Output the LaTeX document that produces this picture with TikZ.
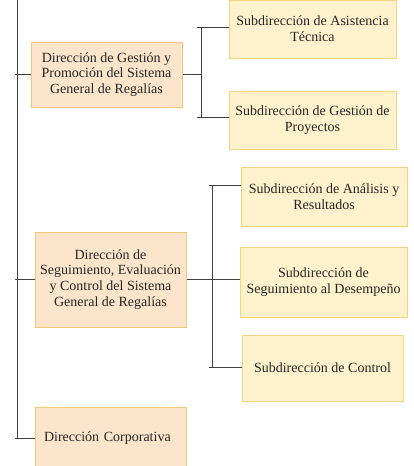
\documentclass[tikz,border=0pt]{standalone}
\usepackage{fontspec}
\setmainfont{Liberation Serif}
\begin{document}
\begin{tikzpicture}[x=1pt,y=-1pt,
  dirbox/.style={draw=dirline,fill=dirfill,line width=1pt,align=center,inner sep=0pt,
    font=\fontsize{14}{15.8}\selectfont,text=black!85},
  subbox/.style={draw=subline,fill=subfill,line width=1pt,align=center,inner sep=0pt,
    font=\fontsize{14}{15.8}\selectfont,text=black!85},
  conn/.style={draw=black!75,line width=1pt}]
\definecolor{dirfill}{HTML}{FDE5CC}
\definecolor{dirline}{HTML}{F2C776}
\definecolor{subfill}{HTML}{FFF2CC}
\definecolor{subline}{HTML}{F4D27E}
\useasboundingbox (0,0) rectangle (413,466);
\begin{scope}
\clip (0,0) rectangle (413,466);
% Direcciones
\node[dirbox,minimum width=151,minimum height=65] (d1) at (106.5,74.5)
  {Dirección de Gestión y\\Promoción del Sistema\\General de Regalías};
\node[dirbox,minimum width=151,minimum height=95] (d2) at (110.5,279.5)
  {Dirección de\\Seguimiento, Evaluación\\y Control del Sistema\\General de Regalías};
\node[dirbox,minimum width=151,minimum height=62,text width=133,align=left] (d3) at (110.5,438)
  {Dirección Corporativa};
% Subdirecciones
\node[subbox,minimum width=167,minimum height=58] (s1) at (312.5,29)
  {Subdirección de Asistencia\\Técnica};
\node[subbox,minimum width=167,minimum height=58] (s2) at (312.5,120)
  {Subdirección de Gestión de\\Proyectos};
\node[subbox,minimum width=166,minimum height=59] (s3) at (324,196.5)
  {Subdirección de Análisis y\\Resultados};
\node[subbox,minimum width=167,minimum height=70] (s4) at (323.5,282)
  {Subdirección de\\Seguimiento al Desempeño};
\node[subbox,minimum width=161,minimum height=66] (s5) at (322.5,368)
  {Subdirección de Control};
% connectors
\coordinate (ttop) at (17,0);
\coordinate (tbot) at (17,438);
\draw[conn] (ttop) -- (tbot);
\draw[conn] (d1.west -| 15,0) -- (d1.west);
\draw[conn] (d2.west -| 15,0) -- (d2.west);
\draw[conn] (d3.west -| 15,0) -- (d3.west);
% bracket 1
\coordinate (b1t) at (201,27);
\coordinate (b1b) at (201,117);
\draw[conn] (d1.east) -- (d1.east -| b1t);
\draw[conn] (b1t) -- (b1b);
\draw[conn] ([xshift=-4pt]b1t) -- (s1.west |- b1t);
\draw[conn] ([xshift=-4pt]b1b) -- (s2.west |- b1b);
% bracket 2
\coordinate (b2t) at (212,185);
\coordinate (b2b) at (212,367);
\draw[conn] (d2.east) -- (s4.west |- d2.east);
\draw[conn] (b2t) -- (b2b);
\draw[conn] ([xshift=-3pt]b2t) -- (s3.west |- b2t);
\draw[conn] ([xshift=-3pt]b2b) -- (s5.west |- b2b);
\end{scope}
\end{tikzpicture}
\end{document}
